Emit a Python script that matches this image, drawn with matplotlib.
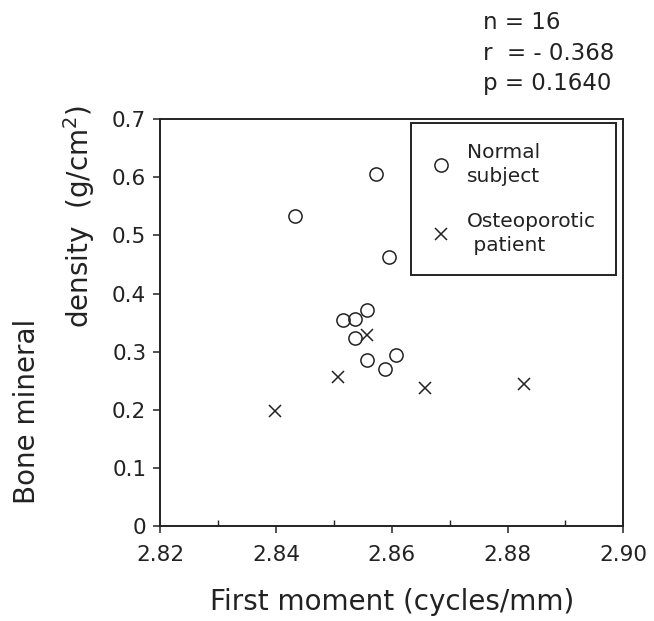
import numpy as np
import matplotlib
matplotlib.use('Agg')
import matplotlib.pyplot as plt
from matplotlib.ticker import MultipleLocator

plt.rcParams['font.family'] = ['DejaVu Sans']
plt.rcParams['mathtext.default'] = 'regular'

# Datos
normal_x = [2.8432, 2.8573, 2.8595, 2.8516, 2.8537, 2.8557, 2.8537, 2.8557, 2.8589, 2.8608]
normal_y = [0.533, 0.606, 0.463, 0.354, 0.356, 0.372, 0.324, 0.285, 0.271, 0.294]
osteo_x = [2.8398, 2.8508, 2.8557, 2.8658, 2.8828]
osteo_y = [0.198, 0.256, 0.329, 0.237, 0.245]
x_ticks = [2.82, 2.84, 2.86, 2.88, 2.90]
y_ticks = [0, 0.1, 0.2, 0.3, 0.4, 0.5, 0.6, 0.7]
y_tick_labels = ['0', '0.1', '0.2', '0.3', '0.4', '0.5', '0.6', '0.7']
stats_lines = ['n = 16', 'r  = - 0.368', 'p = 0.1640']

ink = '#222222'

fig = plt.figure(figsize=(6.54, 6.21), dpi=100)
ax = fig.add_axes([0.245, 0.153, 0.708, 0.655])

ax.plot(normal_x, normal_y, 'o', mfc='none', mec=ink, ms=9.5, mew=1.1,
        ls='none', label='Normal\nsubject')
ax.plot(osteo_x, osteo_y, 'x', color=ink, ms=9, mew=1.1,
        ls='none', label='Osteoporotic\n patient')

ax.set_xlim(2.82, 2.90)
ax.set_ylim(0, 0.7)
ax.set_xticks(x_ticks)
ax.set_xticklabels([f'{v:.2f}' for v in x_ticks])
ax.xaxis.set_minor_locator(MultipleLocator(0.01))
ax.set_yticks(y_ticks)
ax.set_yticklabels(y_tick_labels)

ax.tick_params(axis='both', which='major', direction='out', length=5, width=1.1,
               labelsize=15.5, colors=ink)
ax.tick_params(axis='x', which='major', pad=9)
ax.tick_params(axis='y', which='major', pad=5)
ax.tick_params(axis='x', which='minor', direction='in', length=4, width=1.0, colors=ink)
for sp in ax.spines.values():
    sp.set_linewidth(1.4)
    sp.set_color(ink)

ax.set_xlabel('First moment (cycles/mm)', fontsize=20, color=ink, labelpad=16)
fig.text(0.041, 0.338, 'Bone mineral', rotation=90, fontsize=20, color=ink,
         ha='center', va='center')
fig.text(0.121, 0.652, 'density  (g/cm$^{2}$)', rotation=90, fontsize=20,
         color=ink, ha='center', va='center')

# Estadisticos arriba a la derecha
for i, line in enumerate(stats_lines):
    fig.text(0.739, 0.963 - i * 0.0485, line, fontsize=16.5, color=ink,
             ha='left', va='center')

leg = ax.legend(loc='upper right', bbox_to_anchor=(0.985, 0.99), fontsize=14.5,
                frameon=True, fancybox=False, edgecolor=ink, framealpha=1,
                handletextpad=0.8, borderpad=1.0, labelspacing=1.3,
                handlelength=1.0, borderaxespad=0)
leg.get_frame().set_linewidth(1.4)
for t in leg.get_texts():
    t.set_linespacing(1.3)
    t.set_color(ink)

fig.savefig('out.png', dpi=100)
